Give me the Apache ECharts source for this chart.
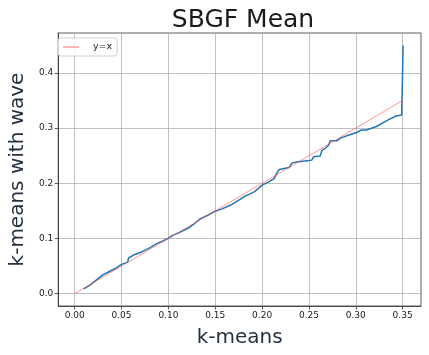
<!DOCTYPE html>
<html><head><meta charset="utf-8">
<script src="https://cdn.jsdelivr.net/npm/echarts@6/dist/echarts.min.js"></script>
<style>html,body{margin:0;padding:0;background:#fff}#c{width:429px;height:355px}</style>
</head><body><div id="c"></div>
<script>
const kmeans = [0.0095, 0.015, 0.022, 0.030, 0.037, 0.044, 0.050, 0.0565, 0.0575, 0.0635, 0.072, 0.080, 0.088, 0.095, 0.100, 0.104, 0.112, 0.1215, 0.128, 0.134, 0.142, 0.1496, 0.158, 0.167, 0.174, 0.181, 0.186, 0.192, 0.197, 0.2006, 0.2076, 0.213, 0.2165, 0.2185, 0.220, 0.2287, 0.232, 0.239, 0.248, 0.253, 0.255, 0.257, 0.262, 0.264, 0.2674, 0.271, 0.2727, 0.2797, 0.283, 0.292, 0.3008, 0.306, 0.3114, 0.322, 0.334, 0.343, 0.349, 0.3505];
const kmeansWave = [0.0085, 0.014, 0.023, 0.034, 0.040, 0.046, 0.053, 0.057, 0.0645, 0.0705, 0.076, 0.083, 0.091, 0.096, 0.1007, 0.105, 0.111, 0.119, 0.127, 0.1356, 0.142, 0.149, 0.154, 0.161, 0.168, 0.176, 0.180, 0.185, 0.192, 0.197, 0.203, 0.209, 0.221, 0.225, 0.2285, 0.2285, 0.237, 0.239, 0.241, 0.242, 0.248, 0.2495, 0.2495, 0.260, 0.2635, 0.269, 0.277, 0.277, 0.2815, 0.287, 0.292, 0.2966, 0.2966, 0.303, 0.3146, 0.322, 0.3237, 0.450];
const refX = [0, 0.35];
const refY = [0, 0.35];
const xTicks = [0, 0.05, 0.10, 0.15, 0.20, 0.25, 0.30, 0.35];
const yTicks = [0, 0.1, 0.2, 0.3, 0.4];

const FONT = 'DejaVu Sans';
const chart = echarts.init(document.getElementById('c'), null, {renderer: 'canvas'});
const zip = (a, b) => a.map((v, i) => [v, b[i]]);
chart.setOption({
  animation: false,
  textStyle: {fontFamily: FONT},
  title: {
    text: 'SBGF Mean', left: 238, top: 3, textAlign: 'center',
    textStyle: {fontFamily: FONT, fontSize: 25, fontWeight: 'normal', color: '#1a1a1a'}
  },
  legend: {
    left: 58, top: 38, orient: 'vertical',
    padding: [4, 5, 4, 5],
    borderColor: '#d0d0d0', borderWidth: 1, borderRadius: 3,
    backgroundColor: 'rgba(255,255,255,0.8)',
    itemWidth: 16, itemHeight: 10, itemGap: 4,
    textStyle: {fontFamily: FONT, fontSize: 9.5, color: '#222', padding: [0, 0, 0, 9]},
    data: [{name: 'y=x', icon: 'path://M0,0L20,0L20,1L0,1Z'}]
  },
  grid: {left: 55, right: 8, top: 33, bottom: 49, show: true, borderColor: '#333', borderWidth: 0.8, containLabel: false},
  xAxis: {
    type: 'value', min: -0.0176, max: 0.3696,
    name: 'k-means', nameLocation: 'middle', nameGap: 22,
    nameTextStyle: {fontFamily: FONT, fontSize: 20, color: '#253242'},
    axisLine: {show: true, onZero: false, lineStyle: {color: '#333', width: 0.8}},
    axisTick: {show: true, length: 3.5, lineStyle: {color: '#333', width: 0.8}, customValues: xTicks},
    axisLabel: {customValues: xTicks, fontSize: 9, color: '#222', margin: 5, formatter: v => v.toFixed(2)},
    splitLine: {show: true, lineStyle: {color: '#b0b0b0', width: 0.8}}
  },
  yAxis: {
    type: 'value', min: -0.0225, max: 0.4725,
    name: 'k-means with wave', nameLocation: 'middle', nameGap: 27, nameRotate: 90,
    nameTextStyle: {fontFamily: FONT, fontSize: 20, color: '#253242'},
    axisLine: {show: true, onZero: false, lineStyle: {color: '#333', width: 0.8}},
    axisTick: {show: true, length: 3.5, lineStyle: {color: '#333', width: 0.8}, customValues: yTicks},
    axisLabel: {customValues: yTicks, fontSize: 9, color: '#222', margin: 5, formatter: v => v.toFixed(1)},
    splitLine: {show: true, lineStyle: {color: '#b0b0b0', width: 0.8}}
  },
  series: [
    {
      name: 'kmeans', type: 'line', data: zip(kmeans, kmeansWave),
      showSymbol: false, symbol: 'none',
      lineStyle: {color: '#1f77b4', width: 1.5}, itemStyle: {color: '#1f77b4'}, z: 2
    },
    {
      name: 'y=x', type: 'line', data: zip(refX, refY),
      showSymbol: false, symbol: 'none',
      lineStyle: {color: '#ff4c4c', width: 0.7, opacity: 0.85}, itemStyle: {color: '#ff4c4c'}, z: 3
    }
  ]
});
</script></body></html>
